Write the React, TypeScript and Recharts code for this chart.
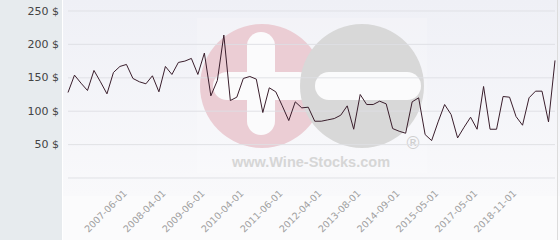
import React from 'react';
import { LineChart, Line, XAxis, YAxis, CartesianGrid } from 'recharts';

const prices = [
  128, 154, 142, 131, 161, 144, 126, 158, 167, 170,
  149, 144, 141, 153, 129, 167, 155, 173, 175, 179,
  155, 187, 123, 146, 214, 116, 121, 149, 152, 148,
  98, 135, 129, 108, 86, 114, 105, 106, 85, 85,
  87, 89, 94, 108, 73, 125, 110, 110, 115, 111,
  74, 70, 67, 114, 120, 65, 56, 84, 110, 95,
  60, 76, 91, 73, 137, 73, 73, 122, 121, 92,
  79, 120, 130, 130, 84, 176,
];

const tickIndexes = [9, 15, 21, 27, 33, 39, 45, 51, 57, 63, 69];
const tickLabels = [
  '2007-06-01', '2008-04-01', '2009-06-01', '2010-04-01', '2011-06-01',
  '2012-04-01', '2013-08-01', '2014-09-01', '2015-05-01', '2017-05-01', '2018-11-01',
];
const yTicks = [0, 50, 100, 150, 200, 250];

const data = prices.map((price, i) => ({ i, price }));

const XTick = (props: any) => {
  const { x, y, payload } = props;
  const idx = tickIndexes.indexOf(payload.value);
  const label = idx >= 0 ? tickLabels[idx] : '';
  return (
    <text
      x={x + 1}
      y={y}
      transform={`rotate(-45, ${x + 1}, ${y})`}
      textAnchor="end"
      fill="#a0a0a0"
      fontSize={9.5}
      fontFamily="DejaVu Sans, sans-serif"
    >
      {label}
    </text>
  );
};

const YTick = (props: any) => {
  const { x, y, payload } = props;
  if (payload.value === 0) return null;
  return (
    <text
      x={x}
      y={y}
      textAnchor="end"
      dominantBaseline="central"
      fill="#444"
      fontSize={11}
      fontFamily="DejaVu Sans, sans-serif"
    >
      {`${payload.value} $`}
    </text>
  );
};

export default function App() {
  return (
    <div style={{ position: 'absolute', left: 0, top: 0, width: 560, height: 240, overflow: 'hidden' }}>
      <svg width={560} height={240} style={{ position: 'absolute', left: 0, top: 0 }}>
        <defs>
          <linearGradient id="bgGrad" x1="0" y1="0" x2="0" y2="1">
            <stop offset="0%" stopColor="#eff0f6" />
            <stop offset="100%" stopColor="#f9f9fb" />
          </linearGradient>
        </defs>
        <rect x={0} y={0} width={560} height={240} fill="#fbfbfc" />
        <rect x={63} y={0} width={497} height={196} fill="url(#bgGrad)" />
        <rect x={0} y={0} width={62} height={240} fill="#e7ebee" />
        <rect x={62} y={0} width={1} height={240} fill="#ffffff" />
        <rect x={557} y={0} width={1} height={240} fill="#dcdcdc" />
        <rect x={197} y={18} width={230} height={155} fill="#ffffff" opacity={0.2} />
        <circle cx={262} cy={86} r={62} fill="#ebcdd4" />
        <rect x={247} y={32} width={28} height={103} rx={14} fill="#fbfbfc" />
        <rect x={213} y={72} width={100} height={28} rx={14} fill="#fbfbfc" />
        <circle cx={362} cy={86} r={62} fill="#d8d8d8" />
        <rect x={315} y={72} width={106} height={28} rx={14} fill="#fbfbfc" />
        <text x={311} y={167} textAnchor="middle" fontSize={14.5} fontWeight="bold"
          fontFamily="Liberation Sans, Arial, sans-serif" fill="#d6d6d6">www.Wine-Stocks.com</text>
        <text x={413} y={149} textAnchor="middle" fontSize={17}
          fontFamily="DejaVu Sans, sans-serif" fill="#cfcfcf">®</text>
      </svg>
      <div style={{ position: 'absolute', left: 0, top: 0 }}>
        <LineChart width={560} height={240} data={data} margin={{ top: 11, right: 5, bottom: 0, left: 0 }}>
          <CartesianGrid horizontal={true} vertical={false} stroke="#dedfe3" strokeOpacity={0.9} />
          <XAxis
            dataKey="i"
            type="number"
            domain={[0, 75]}
            ticks={tickIndexes}
            tick={<XTick />}
            axisLine={false}
            tickLine={false}
            tickSize={0}
            tickMargin={16}
            height={62}
            interval={0}
          />
          <YAxis
            type="number"
            domain={[0, 250]}
            ticks={yTicks}
            tick={<YTick />}
            axisLine={false}
            tickLine={false}
            tickSize={0}
            tickMargin={9}
            width={68}
            interval={0}
          />
          <Line
            type="linear"
            dataKey="price"
            stroke="#3a1e2c"
            strokeWidth={1}
            dot={false}
            isAnimationActive={false}
          />
        </LineChart>
      </div>
    </div>
  );
}
